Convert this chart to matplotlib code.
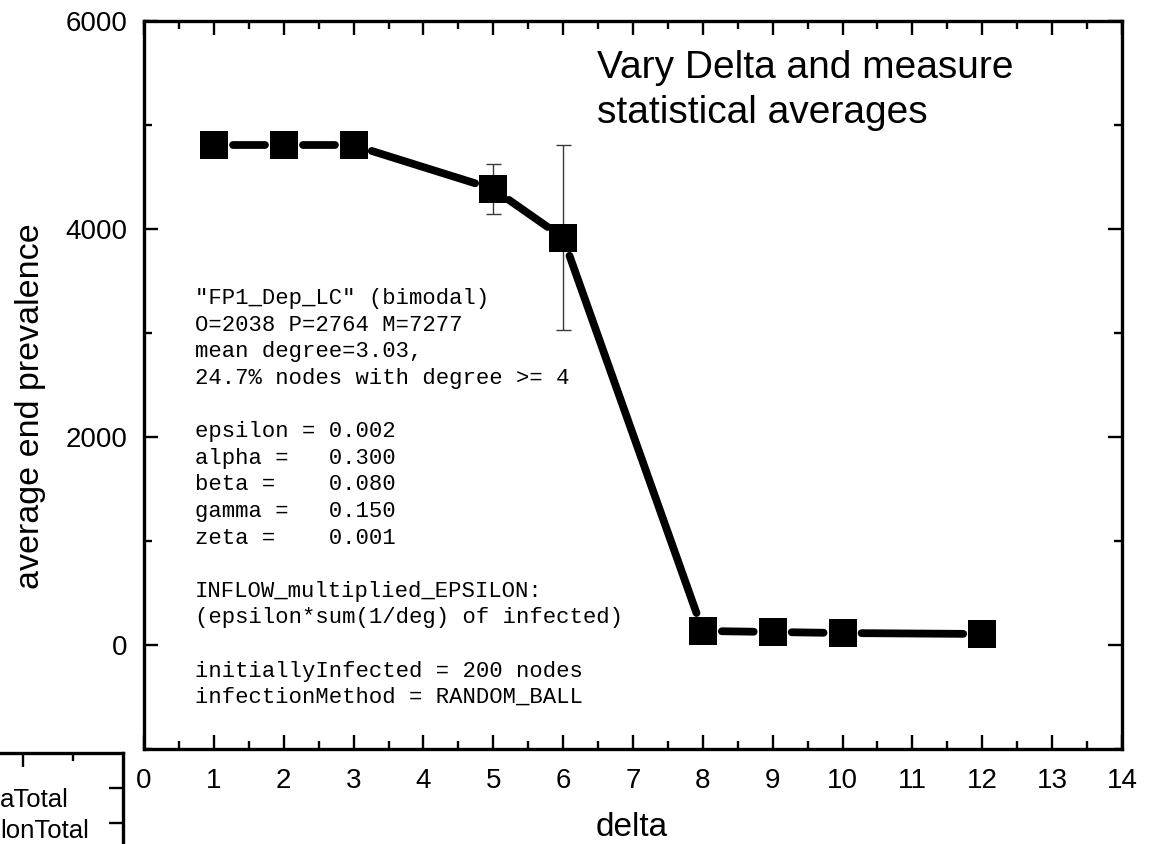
import matplotlib
matplotlib.use("Agg")
import matplotlib.pyplot as plt
import numpy as np

plt.rcParams['font.family'] = ['Liberation Sans', 'DejaVu Sans']

# averaged end prevalence for each delta
delta = [1, 2, 3, 5, 6, 8, 9, 10, 12]
prevalence = [4805, 4805, 4805, 4385, 3915, 135, 125, 115, 106]
# only runs at delta 5 and 6 had spread
err_delta = [5, 6]
err_mean = [4385, 3915]
err_size = [240, 890]

params_text = ('"FP1_Dep_LC" (bimodal)\n'
               'O=2038 P=2764 M=7277\n'
               'mean degree=3.03,\n'
               '24.7% nodes with degree >= 4\n'
               '\n'
               'epsilon = 0.002\n'
               'alpha =   0.300\n'
               'beta =    0.080\n'
               'gamma =   0.150\n'
               'zeta =    0.001\n'
               '\n'
               'INFLOW_multiplied_EPSILON:\n'
               '(epsilon*sum(1/deg) of infected)\n'
               '\n'
               'initiallyInfected = 200 nodes\n'
               'infectionMethod = RANDOM_BALL')

W, H, DPI = 1159, 844, 100
fig = plt.figure(figsize=(W / DPI, H / DPI), dpi=DPI)
ax = fig.add_axes([144 / W, 95 / H, 978 / W, 728 / H])

ax.set_xlim(0, 14)
ax.set_ylim(-1000, 6000)
ax.set_xticks(np.arange(0, 15, 1))
ax.set_xticks(np.arange(0.5, 14, 1), minor=True)
ax.set_yticks([0, 2000, 4000, 6000])
ax.set_yticks([-1000, 1000, 3000, 5000], minor=True)
ax.tick_params(which='both', direction='in', top=True, right=True,
               width=1.7, labelsize=20)
ax.tick_params(which='major', length=10)
ax.tick_params(which='minor', length=5.5)
ax.tick_params(axis='x', pad=14)
ax.tick_params(axis='y', pad=12)
for s in ax.spines.values():
    s.set_linewidth(2.4)

# connecting segments stop short of each marker (gap measured in pixels)
gap = 19
pts = ax.transData.transform(np.column_stack([delta, prevalence]))
for p0, p1 in zip(pts[:-1], pts[1:]):
    d = p1 - p0
    u = d / np.hypot(*d)
    seg = ax.transData.inverted().transform([p0 + u * gap, p1 - u * gap])
    ax.plot(seg[:, 0], seg[:, 1], color='black', lw=5.6,
            solid_capstyle='round', zorder=2)

ax.errorbar(err_delta, err_mean, yerr=err_size, fmt='none', ecolor='#3a3a3a',
            elinewidth=1.0, capsize=5.4, capthick=1.0, zorder=2.5)
ax.plot(delta, prevalence, ls='none', marker='s', ms=20.5, mew=0,
        color='black', zorder=3)

ax.set_xlabel('delta', fontsize=24)
ax.set_ylabel('average end prevalence', fontsize=24.5)
ax.xaxis.set_label_coords(0.4985, -0.086)
ax.yaxis.set_label_coords(-0.100, 0.471)

ax.text(0.463, 0.96, 'Vary Delta and measure\nstatistical averages',
        transform=ax.transAxes, fontsize=28, va='top', ha='left',
        linespacing=1.3)
ax.text(0.0521, 0.633, params_text, transform=ax.transAxes,
        family=['Liberation Mono', 'DejaVu Sans Mono'], fontsize=16,
        va='top', ha='left', linespacing=1.35)

# corner of the neighbouring panel, mostly off the figure
x0, y0 = -0.2, -0.2
w2, h2 = 123 / W - x0, 91 / H - y0
ax2 = fig.add_axes([x0, y0, w2, h2])
ax2.set_xlim(0, 1)
ax2.set_ylim(0, 1)


def px_to_ax2(px, py):
    # figure pixel (from top-left) to ax2 axes fraction
    return (px / W - x0) / w2, (1 - py / H - y0) / h2


ax2.spines['left'].set_visible(False)
ax2.spines['bottom'].set_visible(False)
for s in ('top', 'right'):
    ax2.spines[s].set_linewidth(2.4)
ax2.tick_params(which='both', direction='in', top=True, right=True,
                bottom=False, left=False, labelbottom=False,
                labelleft=False, labeltop=False, labelright=False, width=1.7)
ax2.set_xticks([px_to_ax2(23, 0)[0]])
ax2.set_xticks([px_to_ax2(73, 0)[0]], minor=True)
ax2.set_yticks([px_to_ax2(0, 788)[1], px_to_ax2(0, 823)[1]])
ax2.tick_params(which='major', length=10)
ax2.tick_params(which='minor', length=5.5)
fig.text(0.0, 1 - 807 / H, 'aTotal', fontsize=18.5, ha='left', va='baseline')
fig.text(0.0, 1 - 838 / H, 'lonTotal', fontsize=18.5, ha='left', va='baseline')

fig.savefig('out.png', dpi=DPI)
